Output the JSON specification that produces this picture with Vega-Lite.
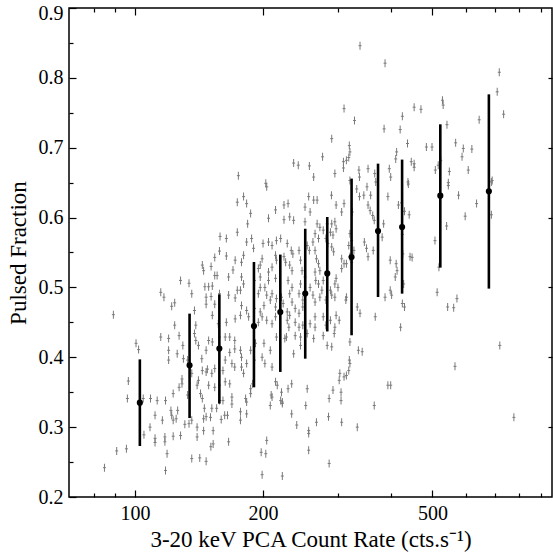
{
  "$schema": "https://vega.github.io/schema/vega-lite/v6.json",
  "width": 483,
  "height": 489,
  "autosize": {"type": "none"},
  "padding": {"left": 69, "top": 8, "right": 1, "bottom": 60},
  "config": {
    "view": {"stroke": "black", "strokeWidth": 1.5},
    "font": "Liberation Serif",
    "axis": {
      "grid": false, "domain": false,
      "labelFont": "Liberation Serif", "titleFont": "Liberation Serif",
      "labelColor": "black", "titleColor": "black", "tickColor": "black",
      "labelFontSize": 20, "titleFontSize": 23, "titleFontWeight": "normal", "tickWidth": 1.2
    }
  },
  "datasets": {
    "pts": [
      {"x":338,"y":0.846},{"x":310,"y":0.756},{"x":328,"y":0.739},{"x":290,"y":0.713},{"x":319,"y":0.703},{"x":320,"y":0.694},{"x":276,"y":0.687},{"x":236,"y":0.678},{"x":242,"y":0.675},{"x":257,"y":0.674},{"x":309,"y":0.68},{"x":314,"y":0.682},{"x":309,"y":0.671},{"x":318,"y":0.686},{"x":263,"y":0.658},{"x":295,"y":0.663},{"x":336,"y":0.668},{"x":175,"y":0.66},{"x":203,"y":0.649},{"x":320,"y":0.653},{"x":337,"y":0.658},
      {"x":387,"y":0.821},{"x":718,"y":0.808},{"x":710,"y":0.78},{"x":735,"y":0.748},{"x":453,"y":0.758},{"x":470,"y":0.755},{"x":425,"y":0.745},{"x":528,"y":0.768},{"x":530,"y":0.761},{"x":644,"y":0.74},{"x":385,"y":0.727},{"x":420,"y":0.726},{"x":541,"y":0.733},{"x":437,"y":0.706},{"x":484,"y":0.701},{"x":499,"y":0.701},{"x":567,"y":0.707},{"x":591,"y":0.699},{"x":619,"y":0.698},{"x":587,"y":0.687},{"x":412,"y":0.694},{"x":410,"y":0.684},{"x":353,"y":0.67},{"x":366,"y":0.663},{"x":368,"y":0.651},{"x":396,"y":0.67},{"x":399,"y":0.658},{"x":446,"y":0.68},{"x":453,"y":0.677},{"x":453,"y":0.672},{"x":438,"y":0.651},{"x":508,"y":0.668},{"x":516,"y":0.675},{"x":523,"y":0.682},{"x":548,"y":0.666},{"x":545,"y":0.65},{"x":607,"y":0.668},{"x":691,"y":0.653},
      {"x":439,"y":0.648},{"x":545,"y":0.646},{"x":576,"y":0.632},{"x":635,"y":0.62},{"x":688,"y":0.651},{"x":688,"y":0.604},{"x":597,"y":0.602},{"x":540,"y":0.588},{"x":507,"y":0.567},{"x":423,"y":0.621},{"x":430,"y":0.609},{"x":441,"y":0.604},{"x":425,"y":0.576},{"x":443,"y":0.544},{"x":448,"y":0.543},{"x":426,"y":0.548},{"x":428,"y":0.505},{"x":518,"y":0.529},{"x":513,"y":0.493},{"x":425,"y":0.477},{"x":430,"y":0.472},{"x":543,"y":0.472},{"x":561,"y":0.471},{"x":571,"y":0.484},{"x":421,"y":0.443},
      {"x":720,"y":0.417},{"x":565,"y":0.387},{"x":777,"y":0.314},
      {"x":174,"y":0.622},{"x":174,"y":0.579},{"x":158.5,"y":0.573},{"x":164,"y":0.57},{"x":158,"y":0.552},{"x":154,"y":0.543},{"x":164,"y":0.545},{"x":172,"y":0.539},{"x":144,"y":0.532},{"x":145,"y":0.524},{"x":151,"y":0.53},{"x":154,"y":0.517},{"x":156,"y":0.517},{"x":170,"y":0.525},{"x":166,"y":0.515},{"x":128,"y":0.51},{"x":134,"y":0.506},{"x":115,"y":0.493},{"x":117,"y":0.486},{"x":136,"y":0.491},{"x":146,"y":0.501},{"x":149,"y":0.501},{"x":152,"y":0.502},{"x":147,"y":0.486},{"x":151,"y":0.487},{"x":158,"y":0.491},{"x":166,"y":0.489},{"x":172,"y":0.485},{"x":174,"y":0.496},{"x":124,"y":0.478},{"x":122,"y":0.473},{"x":147,"y":0.476},{"x":154,"y":0.476},{"x":138,"y":0.467},{"x":89,"y":0.461},{"x":152,"y":0.46},{"x":172,"y":0.455},{"x":164,"y":0.45},{"x":124,"y":0.446},{"x":139,"y":0.446},{"x":157,"y":0.448},
      {"x":100.6,"y":0.42},{"x":102,"y":0.411},{"x":115,"y":0.429},{"x":120,"y":0.427},{"x":120,"y":0.41},{"x":120,"y":0.396},{"x":125.7,"y":0.405},{"x":127,"y":0.431},{"x":96.5,"y":0.366},{"x":96,"y":0.341},{"x":104.6,"y":0.341},{"x":108.8,"y":0.341},{"x":112.8,"y":0.338},{"x":118,"y":0.338},{"x":123,"y":0.348},{"x":129,"y":0.369},{"x":129,"y":0.362},{"x":127,"y":0.357},{"x":133,"y":0.346},{"x":136,"y":0.377},{"x":133,"y":0.396},{"x":130,"y":0.398},{"x":140,"y":0.36},{"x":141,"y":0.367},{"x":142.6,"y":0.348},{"x":144,"y":0.341},{"x":111.5,"y":0.317},{"x":116,"y":0.31},{"x":122,"y":0.317},{"x":123,"y":0.31},{"x":125,"y":0.312},{"x":121.5,"y":0.324},{"x":126,"y":0.324},{"x":108.5,"y":0.3},{"x":105,"y":0.289},{"x":111.5,"y":0.284},{"x":111.5,"y":0.278},{"x":117.6,"y":0.286},{"x":117.6,"y":0.279},{"x":123,"y":0.287},{"x":128,"y":0.288},{"x":131,"y":0.304},{"x":134,"y":0.305},{"x":136,"y":0.31},{"x":140,"y":0.286},{"x":140,"y":0.3},{"x":145,"y":0.295},{"x":145,"y":0.312},{"x":147,"y":0.315},{"x":145.6,"y":0.327},{"x":150.5,"y":0.314},{"x":151.6,"y":0.327},{"x":152.7,"y":0.295},{"x":150.8,"y":0.272},{"x":152.7,"y":0.276},{"x":155.6,"y":0.327},{"x":159.5,"y":0.311},{"x":162.5,"y":0.317},{"x":165,"y":0.317},{"x":166,"y":0.279},{"x":169,"y":0.333},{"x":90.6,"y":0.266},{"x":95.5,"y":0.269},{"x":84.8,"y":0.242},{"x":118,"y":0.238},{"x":119,"y":0.262},{"x":136,"y":0.255},{"x":142,"y":0.256},{"x":147,"y":0.251},
      {"x":144,"y":0.381},{"x":147,"y":0.379},{"x":148,"y":0.383},{"x":151.6,"y":0.377},{"x":154,"y":0.384},{"x":149,"y":0.36},{"x":154,"y":0.357},{"x":158,"y":0.36},{"x":161,"y":0.381},{"x":163,"y":0.365},{"x":167,"y":0.362},{"x":169,"y":0.343},{"x":171.6,"y":0.386},{"x":169,"y":0.391},{"x":167,"y":0.407},{"x":171.6,"y":0.412},{"x":147,"y":0.41},{"x":149,"y":0.424},{"x":139,"y":0.424},{"x":138,"y":0.434},{"x":152,"y":0.422},{"x":163,"y":0.429},{"x":167,"y":0.429},{"x":171.6,"y":0.424},{"x":158,"y":0.429},{"x":141,"y":0.417},{"x":143.6,"y":0.398},{"x":163,"y":0.396},{"x":158,"y":0.338},{"x":161,"y":0.338},{"x":129.6,"y":0.417},
      {"x":393,"y":0.36},{"x":399,"y":0.36},{"x":365,"y":0.331},{"x":333,"y":0.3},{"x":306,"y":0.307},{"x":305,"y":0.338},{"x":305,"y":0.35},{"x":292,"y":0.353},{"x":286,"y":0.341},{"x":285,"y":0.315},{"x":267,"y":0.307},{"x":256,"y":0.295},{"x":256,"y":0.291},{"x":256,"y":0.267},{"x":286,"y":0.248},{"x":252,"y":0.331},{"x":254,"y":0.355},{"x":240,"y":0.303},{"x":233.5,"y":0.319},{"x":204,"y":0.281},{"x":198,"y":0.264},{"x":203,"y":0.262},{"x":199,"y":0.232},{"x":222,"y":0.23},{"x":233.5,"y":0.362},{"x":229,"y":0.355},{"x":221,"y":0.35},{"x":222,"y":0.336},{"x":210,"y":0.343},{"x":208,"y":0.331},{"x":183,"y":0.319},{"x":183,"y":0.336},{"x":187,"y":0.348},{"x":182,"y":0.341},{"x":177,"y":0.31},{"x":177,"y":0.322},
      {"x":187,"y":0.355},{"x":189,"y":0.362},{"x":180,"y":0.377},{"x":178,"y":0.386},{"x":183,"y":0.391},{"x":178,"y":0.4},{"x":177,"y":0.41},{"x":187,"y":0.41},{"x":191,"y":0.396},{"x":192,"y":0.42},{"x":201,"y":0.42},{"x":199,"y":0.4},{"x":202,"y":0.391},{"x":208,"y":0.41},{"x":210,"y":0.386},{"x":214,"y":0.365},{"x":215,"y":0.429},{"x":225,"y":0.427},{"x":227,"y":0.429},{"x":236,"y":0.405},{"x":238,"y":0.431},{"x":245,"y":0.429},{"x":245,"y":0.417},{"x":254,"y":0.434},{"x":263,"y":0.427},{"x":277,"y":0.431},{"x":283,"y":0.417},{"x":290,"y":0.415},{"x":294,"y":0.434},{"x":320,"y":0.391},{"x":318,"y":0.381},{"x":314,"y":0.374},{"x":310,"y":0.372},{"x":303,"y":0.377},{"x":302,"y":0.367},{"x":335,"y":0.41},{"x":342,"y":0.408},{"x":320,"y":0.422},{"x":319,"y":0.396},{"x":216,"y":0.36},{"x":209,"y":0.346},{"x":220,"y":0.338},{"x":222,"y":0.334},
      {"x":180,"y":0.63},{"x":183,"y":0.62},{"x":204,"y":0.644},{"x":187,"y":0.606},{"x":184,"y":0.591},{"x":214,"y":0.611},{"x":224,"y":0.618},{"x":229,"y":0.62},{"x":231,"y":0.601},{"x":236,"y":0.596},{"x":224,"y":0.597},{"x":206,"y":0.599},{"x":251,"y":0.615},{"x":258,"y":0.608},{"x":263,"y":0.625},{"x":268,"y":0.625},{"x":256,"y":0.63},{"x":289.6,"y":0.632},{"x":297,"y":0.618},{"x":310,"y":0.62},{"x":306,"y":0.608},{"x":324,"y":0.608},{"x":332,"y":0.641},{"x":337,"y":0.63},{"x":345,"y":0.632},{"x":351,"y":0.644},{"x":358,"y":0.632},{"x":393,"y":0.63},{"x":416,"y":0.618},{"x":353,"y":0.618},{"x":357,"y":0.61},{"x":362,"y":0.603},{"x":365,"y":0.596},{"x":384,"y":0.591},{"x":381,"y":0.572},{"x":251,"y":0.594},{"x":268,"y":0.591},{"x":272,"y":0.586},{"x":277,"y":0.582},{"x":283,"y":0.591},{"x":290,"y":0.591},{"x":295,"y":0.594},{"x":297,"y":0.584},{"x":288,"y":0.579},{"x":292,"y":0.575},{"x":281,"y":0.57},{"x":284,"y":0.563},{"x":265,"y":0.577},{"x":270,"y":0.57},{"x":262,"y":0.565},{"x":254,"y":0.56},{"x":257,"y":0.553},{"x":228,"y":0.563},{"x":233,"y":0.553},{"x":235,"y":0.548},{"x":220,"y":0.57},{"x":215,"y":0.567},{"x":210,"y":0.56},{"x":200,"y":0.563},{"x":206,"y":0.565},{"x":188,"y":0.57},{"x":190,"y":0.556},{"x":183,"y":0.565},{"x":180,"y":0.546},{"x":178,"y":0.536},{"x":199,"y":0.541},{"x":197,"y":0.532},{"x":214,"y":0.546},{"x":215,"y":0.539},{"x":224,"y":0.544},{"x":226,"y":0.536},{"x":243,"y":0.553},{"x":245,"y":0.539},{"x":265,"y":0.553},{"x":267,"y":0.541},{"x":270,"y":0.534},{"x":290,"y":0.558},{"x":293,"y":0.551},{"x":306,"y":0.541},{"x":314,"y":0.534},{"x":320,"y":0.577},{"x":323,"y":0.567},{"x":318,"y":0.56},{"x":327,"y":0.553},{"x":320,"y":0.544},{"x":323,"y":0.536},{"x":346,"y":0.565},{"x":350,"y":0.556},{"x":353,"y":0.544},{"x":363,"y":0.553},{"x":398,"y":0.539},{"x":411,"y":0.534},{"x":413,"y":0.524},{"x":409,"y":0.515},{"x":387,"y":0.486},{"x":398,"y":0.496},{"x":401,"y":0.489},{"x":367,"y":0.458},{"x":333,"y":0.472},{"x":338,"y":0.463},{"x":314,"y":0.486},{"x":313,"y":0.482},{"x":310,"y":0.534},{"x":306,"y":0.527},{"x":297,"y":0.513},{"x":295,"y":0.505},{"x":300,"y":0.5},{"x":288,"y":0.496},{"x":290,"y":0.489},{"x":295,"y":0.486},{"x":272,"y":0.524},{"x":277,"y":0.51},{"x":270,"y":0.505},{"x":275,"y":0.496},{"x":272,"y":0.486},{"x":281,"y":0.482},{"x":265,"y":0.522},{"x":266,"y":0.51},{"x":258,"y":0.5},{"x":262,"y":0.489},{"x":265,"y":0.479},{"x":247,"y":0.524},{"x":251,"y":0.515},{"x":245,"y":0.505},{"x":231,"y":0.532},{"x":234,"y":0.524},{"x":229,"y":0.51},{"x":234,"y":0.5},{"x":231,"y":0.491},{"x":243,"y":0.491},{"x":248,"y":0.482},{"x":248,"y":0.472},{"x":243,"y":0.463},{"x":210,"y":0.529},{"x":206,"y":0.522},{"x":214,"y":0.513},{"x":206,"y":0.51},{"x":195,"y":0.527},{"x":197,"y":0.515},{"x":191,"y":0.51},{"x":197,"y":0.5},{"x":195,"y":0.491},{"x":178,"y":0.515},{"x":180,"y":0.505},{"x":177,"y":0.496},{"x":202,"y":0.5},{"x":204,"y":0.489},{"x":208,"y":0.482},{"x":201,"y":0.474},{"x":210,"y":0.491},{"x":215,"y":0.484},{"x":214,"y":0.472},{"x":221,"y":0.486},{"x":223,"y":0.477},{"x":220,"y":0.467},{"x":228,"y":0.465},{"x":234,"y":0.479},{"x":238,"y":0.47},{"x":231,"y":0.46},{"x":178,"y":0.474},{"x":183,"y":0.467},{"x":177,"y":0.46},{"x":185,"y":0.458},{"x":191,"y":0.47},{"x":197,"y":0.465},{"x":199,"y":0.458},{"x":195,"y":0.45},{"x":204,"y":0.453},{"x":210,"y":0.448},{"x":214,"y":0.458},{"x":265,"y":0.458},{"x":258,"y":0.448},{"x":265,"y":0.443},{"x":277,"y":0.458},{"x":288,"y":0.453},{"x":281,"y":0.446},{"x":297,"y":0.46},{"x":302,"y":0.453},{"x":295,"y":0.443},{"x":238,"y":0.45},{"x":243,"y":0.443},{"x":248,"y":0.446},{"x":228,"y":0.453},{"x":230,"y":0.443}
    ],
    "bins": [
      {"x":102.7,"y":0.335,"lo":0.273,"hi":0.397},
      {"x":134.4,"y":0.3885,"lo":0.313,"hi":0.4625},
      {"x":157.9,"y":0.4124,"lo":0.3337,"hi":0.49},
      {"x":190.4,"y":0.4448,"lo":0.357,"hi":0.5364},
      {"x":219.6,"y":0.4648,"lo":0.379,"hi":0.547},
      {"x":251.3,"y":0.4912,"lo":0.398,"hi":0.584},
      {"x":283.1,"y":0.52,"lo":0.437,"hi":0.6008},
      {"x":322.9,"y":0.5436,"lo":0.4315,"hi":0.6558},
      {"x":372.6,"y":0.5808,"lo":0.4863,"hi":0.6772},
      {"x":424.4,"y":0.5865,"lo":0.4911,"hi":0.683},
      {"x":521.9,"y":0.6314,"lo":0.5284,"hi":0.7335},
      {"x":678.7,"y":0.6376,"lo":0.4983,"hi":0.7764}
    ]
  },
  "resolve": {"axis": {"x": "independent", "y": "independent"}},
  "layer": [
    {
      "data": {"name": "pts"},
      "mark": {"type": "tick", "orient": "vertical", "size": 8, "thickness": 1, "color": "#7a7a7a", "opacity": 1},
      "encoding": {
        "x": {"field": "x", "type": "quantitative",
              "scale": {"type": "log", "domain": [70, 955], "nice": false},
              "axis": {"orient": "bottom", "values": [100, 200, 500], "format": "d", "tickSize": -7, "labelPadding": 13, "title": "3-20 keV PCA Count Rate (cts.s⁻¹)", "titlePadding": 5}},
        "y": {"field": "y", "type": "quantitative",
              "scale": {"domain": [0.2, 0.9], "nice": false, "zero": false},
              "axis": {"orient": "left", "values": [0.2, 0.3, 0.4, 0.5, 0.6, 0.7, 0.8, 0.9], "format": ".1f", "tickSize": -7, "labelPadding": 13,
                       "labelOffset": {"condition": {"test": "datum.value >= 0.89", "value": 5.5}, "value": 0},
                       "title": "Pulsed Fraction", "titlePadding": 8}}
      }
    },
    {
      "data": {"name": "pts"},
      "mark": {"type": "tick", "orient": "horizontal", "size": 3, "thickness": 1, "color": "#7a7a7a", "opacity": 1},
      "encoding": {
        "x": {"field": "x", "type": "quantitative",
              "axis": {"orient": "bottom", "values": [80, 90, 300, 400, 600, 700, 800, 900], "labels": false, "tickSize": -4, "title": null}},
        "y": {"field": "y", "type": "quantitative",
              "axis": {"orient": "left", "values": [0.25, 0.35, 0.45, 0.55, 0.65, 0.75, 0.85], "labels": false, "tickSize": -4, "title": null}}
      }
    },
    {
      "data": {"name": "bins"},
      "mark": {"type": "rule", "color": "black", "strokeWidth": 2.6},
      "encoding": {
        "x": {"field": "x", "type": "quantitative",
              "axis": {"orient": "top", "values": [100, 200, 500], "labels": false, "tickSize": -7, "title": null}},
        "y": {"field": "lo", "type": "quantitative",
              "axis": {"orient": "right", "values": [0.3, 0.4, 0.5, 0.6, 0.7, 0.8], "labels": false, "tickSize": -4, "title": null}},
        "y2": {"field": "hi"}
      }
    },
    {
      "data": {"name": "bins"},
      "mark": {"type": "circle", "color": "black", "size": 38, "opacity": 1},
      "encoding": {
        "x": {"field": "x", "type": "quantitative",
              "axis": {"orient": "top", "values": [80, 90, 300, 400, 600, 700, 800, 900], "labels": false, "tickSize": -4, "title": null}},
        "y": {"field": "y", "type": "quantitative", "axis": null}
      }
    }
  ]
}
